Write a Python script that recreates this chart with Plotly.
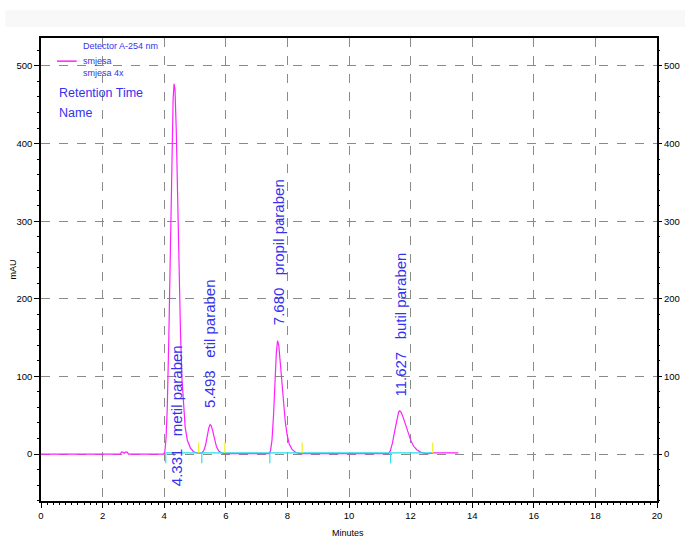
import plotly.graph_objects as go

# ---- data ----
time_min = [0, 2.58, 2.61, 2.66, 2.70, 2.74, 2.80, 2.84, 3.98, 4.02, 4.06, 4.10, 4.15, 4.20, 4.25,
            4.29, 4.32, 4.35, 4.39, 4.43, 4.48, 4.53, 4.58, 4.63, 4.68, 4.75, 4.85, 4.95, 5.10,
            5.22, 5.28, 5.34, 5.40, 5.45, 5.49, 5.53, 5.58, 5.64, 5.70, 5.78, 5.88, 6.00,
            7.40, 7.45, 7.50, 7.55, 7.60, 7.64, 7.68, 7.72, 7.77, 7.82, 7.87, 7.93, 7.99, 8.06,
            8.15, 8.27, 8.40, 11.28, 11.34, 11.41, 11.48, 11.55, 11.61, 11.65, 11.70, 11.77,
            11.85, 11.93, 12.01, 12.10, 12.20, 12.32, 12.47, 12.60, 12.75, 13.55]
signal_mau = [0, 0, 2.5, 2.5, 0.8, 2.5, 2.5, 0, 0, 3, 20, 60, 150, 270, 390,
              458, 477, 470, 420, 340, 240, 155, 95, 58, 35, 18, 8, 3, 1,
              1.5, 4, 11, 24, 34, 38, 36.5, 29, 18, 9, 3.5, 1, 0.5,
              0.5, 4, 18, 50, 98, 130, 146, 140, 117, 90, 65, 42, 25, 13,
              6, 2, 0.5, 0.5, 4, 14, 29, 45, 54, 55.5, 53.5, 46,
              36, 26, 17, 10, 5.5, 2.5, 0.8, 0.5, 1.5, 1.5]

retention_times = ["4.331", "5.493", "7.680", "11.627"]
peak_names = ["metil paraben", "etil paraben", "propil paraben", "butil paraben"]
label_x = [4.40, 5.49, 7.71, 11.67]
label_base = [-44, 57, 164, 72]

peak_start = [4.05, 5.22, 7.43, 11.35]
peak_end = [5.12, 5.97, 8.48, 12.72]
baseline_level = 1.5

x_ticks = list(range(0, 21, 2))
y_ticks = [0, 100, 200, 300, 400, 500]

legend_title = "Detector A-254 nm"
series_names = ["smjesa", "smjesa 4x"]

# ---- figure ----
MAG = "#ff20ff"
BLUE = "#3333ee"
SANS = "Liberation Sans, Arial, sans-serif"

fig = go.Figure()

fig.add_trace(go.Scatter(x=time_min, y=signal_mau, mode="lines",
                         line=dict(color=MAG, width=1.2), name=series_names[0],
                         showlegend=False, hoverinfo="skip"))

# baseline (cyan)
fig.add_trace(go.Scatter(x=[peak_start[0], peak_end[-1]], y=[baseline_level, baseline_level],
                         mode="lines", line=dict(color="#22e0e8", width=1.2),
                         showlegend=False, hoverinfo="skip"))

# peak start markers (cyan, downward)
cx, cy = [], []
for s in peak_start:
    cx += [s, s, None]
    cy += [baseline_level, -12, None]
fig.add_trace(go.Scatter(x=cx, y=cy, mode="lines", line=dict(color="#33dde6", width=1.2),
                         showlegend=False, hoverinfo="skip"))

# peak end markers (yellow, upward)
yx, yy = [], []
for e in peak_end:
    yx += [e, e, None]
    yy += [baseline_level, 15, None]
fig.add_trace(go.Scatter(x=yx, y=yy, mode="lines", line=dict(color="#f2f020", width=1.2),
                         showlegend=False, hoverinfo="skip"))

# dummy trace for right axis
fig.add_trace(go.Scatter(x=[0], y=[0], yaxis="y2", mode="markers",
                         marker=dict(opacity=0), showlegend=False, hoverinfo="skip"))

# peak labels
for rt, nm, lx, lb in zip(retention_times, peak_names, label_x, label_base):
    fig.add_annotation(x=lx, y=lb, xref="x", yref="y", text=f"{rt}\u00a0\u00a0\u00a0{nm}",
                       textangle=-90, showarrow=False, xanchor="center", yanchor="bottom",
                       font=dict(family=SANS, size=15, color=BLUE))

# legend-like texts
fig.add_annotation(x=0.065, y=0.983, xref="paper", yref="paper", text=legend_title,
                   showarrow=False, xanchor="left", yanchor="middle",
                   font=dict(family=SANS, size=9, color=BLUE))
fig.add_annotation(x=0.065, y=0.950, xref="paper", yref="paper", text=series_names[0],
                   showarrow=False, xanchor="left", yanchor="middle",
                   font=dict(family=SANS, size=9, color=BLUE))
fig.add_annotation(x=0.065, y=0.924, xref="paper", yref="paper", text=series_names[1],
                   showarrow=False, xanchor="left", yanchor="middle",
                   font=dict(family=SANS, size=9, color=BLUE))
fig.add_shape(type="line", xref="paper", yref="paper", x0=0.026, x1=0.058, y0=0.950, y1=0.950,
              line=dict(color=MAG, width=1.5))
fig.add_annotation(x=0.026, y=0.881, xref="paper", yref="paper", text="Retention Time",
                   showarrow=False, xanchor="left", yanchor="middle",
                   font=dict(family=SANS, size=12.5, color=BLUE))
fig.add_annotation(x=0.026, y=0.838, xref="paper", yref="paper", text="Name",
                   showarrow=False, xanchor="left", yanchor="middle",
                   font=dict(family=SANS, size=12.5, color=BLUE))

# axis titles
fig.add_annotation(x=-0.047, y=0.5, xref="paper", yref="paper", text="mAU", textangle=-90,
                   showarrow=False, xanchor="center", yanchor="middle",
                   font=dict(family=SANS, size=9, color="#000000"))
fig.add_annotation(x=0.498, y=-0.069, xref="paper", yref="paper", text="Minutes",
                   showarrow=False, xanchor="center", yanchor="middle",
                   font=dict(family=SANS, size=9, color="#000000"))

# faint band at top of page
fig.add_shape(type="rect", xref="paper", yref="paper", x0=-0.058, x1=1.06, y0=1.0238, y1=1.0605,
              fillcolor="#f8f8f8", line=dict(width=0), layer="below")

tickfont = dict(family=SANS, size=9.5, color="#000000")
fig.update_layout(
    width=685, height=539,
    margin=dict(l=41, r=28, t=38, b=38, autoexpand=False),
    paper_bgcolor="white", plot_bgcolor="white",
    showlegend=False,
    xaxis=dict(range=[0, 20], tickvals=x_ticks, ticks="outside", ticklen=5, tickcolor="black",
               showline=True, linecolor="black", linewidth=1.5, mirror=True, automargin=False,
               showgrid=True, gridcolor="#8a8a8a", griddash="dash", gridwidth=1,
               zeroline=False, tickfont=tickfont,
               minor=dict(dtick=0.2, ticks="outside", ticklen=2, tickcolor="black", showgrid=False)),
    yaxis=dict(range=[-60.5, 536], tickvals=y_ticks, ticks="outside", ticklen=5, tickcolor="black",
               showline=True, linecolor="black", linewidth=1.5, mirror=True, automargin=False,
               showgrid=True, gridcolor="#8a8a8a", griddash="dash", gridwidth=1,
               zeroline=False, tickfont=tickfont,
               minor=dict(dtick=20, ticks="outside", ticklen=2, tickcolor="black", showgrid=False)),
    yaxis2=dict(range=[-60.5, 536], tickvals=y_ticks, overlaying="y", side="right",
                ticks="outside", ticklen=4, tickcolor="black", showgrid=False, zeroline=False,
                showline=False, tickfont=tickfont, automargin=False,
                minor=dict(dtick=20, ticks="outside", ticklen=2, tickcolor="black")),
)

fig.write_html("out.html")
